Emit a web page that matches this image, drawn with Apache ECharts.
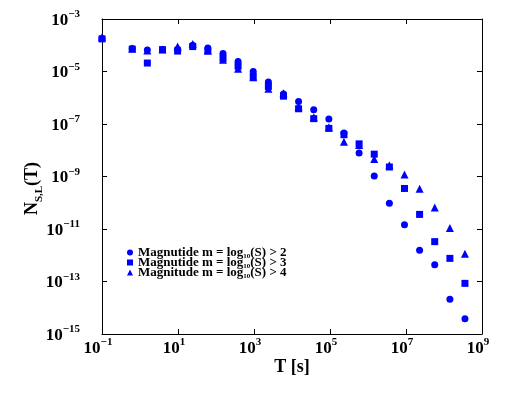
<!DOCTYPE html>
<html><head><meta charset="utf-8">
<script src="https://cdn.jsdelivr.net/npm/echarts@6/dist/echarts.min.js"></script>
<style>html,body{margin:0;padding:0;background:#fff}#c{width:520px;height:395px}</style>
</head><body><div id="c"></div>
<script>
var T = [0.1, 0.625, 1.56, 3.91, 9.77, 24.4, 61, 153, 381, 954, 2390, 5970, 14900, 37300, 93300, 233000, 583000, 1.46e6, 3.65e6, 9.12e6, 2.28e7, 5.7e7, 1.43e8, 3.56e8];
var m2 = [1.8e-4, 7.6e-5, 6.6e-5, 6.9e-5, 7.1e-5, 1.0e-4, 7.9e-5, 4.8e-5, 2.4e-5, 1.0e-5, 4.0e-6, 1.4e-6, 7.2e-7, 3.5e-7, 1.55e-7, 4.5e-8, 7.9e-9, 1.05e-9, 9.5e-11, 1.45e-11, 1.55e-12, 4.3e-13, 2.1e-14, 3.8e-15];
var m3 = [1.75e-4, 7.1e-5, 2.1e-5, 6.8e-5, 6.0e-5, 8.9e-5, 6.0e-5, 3.2e-5, 1.6e-5, 6.5e-6, 2.7e-6, 1.15e-6, 3.8e-7, 1.6e-7, 6.8e-8, 3.9e-8, 1.75e-8, 7.1e-9, 2.3e-9, 3.5e-10, 3.6e-11, 3.3e-12, 7.6e-13, 8.5e-14];
var m4 = [2.0e-4, 7.6e-5, 6.3e-5, 6.9e-5, 8.9e-5, 1.12e-4, 6.3e-5, 2.8e-5, 1.26e-5, 6.0e-6, 2.2e-6, 1.5e-6, 4.5e-7, 1.8e-7, 7.6e-8, 2.1e-8, 1.6e-8, 4.6e-9, 2.7e-9, 1.2e-9, 3.4e-10, 6.6e-11, 1.1e-11, 1.15e-12];
var seriesNames = ['Magnutide m = log10(S) > 2', 'Magnutide m = log10(S) > 3', 'Magnitude m = log10(S) > 4'];
var legendRich = {
  'Magnutide m = log10(S) > 2': '{t|Magnutide m = log}{s|10}{t|(S) > 2}',
  'Magnutide m = log10(S) > 3': '{t|Magnutide m = log}{s|10}{t|(S) > 3}',
  'Magnitude m = log10(S) > 4': '{t|Magnitude m = log}{s|10}{t|(S) > 4}'
};
var xTickExp = [-1, 1, 3, 5, 7, 9];
var yTickExp = [-15, -13, -11, -9, -7, -5, -3];

var FONT = 'Liberation Serif';
function pairs(ys) { return T.map(function (t, i) { return [t, ys[i]]; }); }
function supLabel(v) {
  var e = Math.round(Math.log10(v));
  var s = e < 0 ? '\u2212' + (-e) : String(e);
  return '{b|10}{e|' + s + '}';
}
var labRich = {
  b: { fontFamily: FONT, fontWeight: 'bold', fontSize: 17, color: '#000', lineHeight: 20, verticalAlign: 'bottom' },
  e: { fontFamily: FONT, fontWeight: 'bold', fontSize: 11, color: '#000', lineHeight: 20, verticalAlign: 'top', padding: [0, 0, 8, 0] }
};
var axLine = { show: true, lineStyle: { color: '#000', width: 1 } };
var chart = echarts.init(document.getElementById('c'));
var blue = '#0000ff';
chart.setOption({
  animation: false,
  backgroundColor: '#fff',
  grid: { left: 102, right: 38, top: 19, bottom: 61 },
  legend: {
    data: seriesNames,
    orient: 'vertical',
    left: 122, top: 241,
    itemWidth: 6, itemHeight: 6, itemGap: -3.5,
    formatter: function (n) { return legendRich[n]; },
    textStyle: {
      rich: {
        t: { fontFamily: FONT, fontWeight: 'bold', fontSize: 13, color: '#000', lineHeight: 14 },
        s: { fontFamily: FONT, fontWeight: 'bold', fontSize: 7, color: '#000', lineHeight: 14, verticalAlign: 'bottom' }
      }
    }
  },
  xAxis: [{
    type: 'log', logBase: 10, min: 0.1, max: 1e9, interval: 2,
    axisLine: axLine, splitLine: { show: false },
    axisTick: { show: true, inside: true, length: 5, lineStyle: { color: '#000' } },
    axisLabel: { margin: 3, formatter: supLabel, rich: labRich, padding: [0, 8, 0, 0] },
    name: 'T [s]', nameLocation: 'middle', nameGap: 24, nameMoveOverlap: false,
    nameTextStyle: { fontFamily: FONT, fontWeight: 'bold', fontSize: 18, color: '#000' }
  }, {
    type: 'log', logBase: 10, min: 0.1, max: 1e9, interval: 2, position: 'top',
    axisLine: axLine, splitLine: { show: false },
    axisTick: { show: true, inside: true, length: 5, lineStyle: { color: '#000' } },
    axisLabel: { show: false }
  }],
  yAxis: [{
    type: 'log', logBase: 10, min: 1e-15, max: 1e-3, interval: 2,
    axisLine: axLine, splitLine: { show: false },
    axisTick: { show: true, inside: true, length: 5, lineStyle: { color: '#000' } },
    axisLabel: { margin: 22, formatter: supLabel, rich: labRich },
    name: '{n|N}{s|S,L}{n|(T)}', nameLocation: 'middle', nameGap: 61, nameRotate: 90, nameMoveOverlap: false,
    nameTextStyle: {
      padding: [0, 24, 0, 0],
      rich: {
        n: { fontFamily: FONT, fontWeight: 'bold', fontSize: 18, color: '#000', lineHeight: 22, verticalAlign: 'bottom' },
        s: { fontFamily: FONT, fontWeight: 'bold', fontSize: 11, color: '#000', lineHeight: 22, verticalAlign: 'bottom', padding: [0, 0, -4, 0] }
      }
    }
  }, {
    type: 'log', logBase: 10, min: 1e-15, max: 1e-3, interval: 2, position: 'right',
    axisLine: axLine, splitLine: { show: false },
    axisTick: { show: true, inside: true, length: 5, lineStyle: { color: '#000' } },
    axisLabel: { show: false }
  }],
  series: [
    { name: seriesNames[0], type: 'scatter', symbol: 'circle', symbolSize: 7, data: pairs(m2), itemStyle: { color: blue, opacity: 1 } },
    { name: seriesNames[1], type: 'scatter', symbol: 'rect', symbolSize: 7, data: pairs(m3), itemStyle: { color: blue, opacity: 1 } },
    { name: seriesNames[2], type: 'scatter', symbol: 'triangle', symbolSize: 8, data: pairs(m4), itemStyle: { color: blue, opacity: 1 } }
  ]
});
</script></body></html>
